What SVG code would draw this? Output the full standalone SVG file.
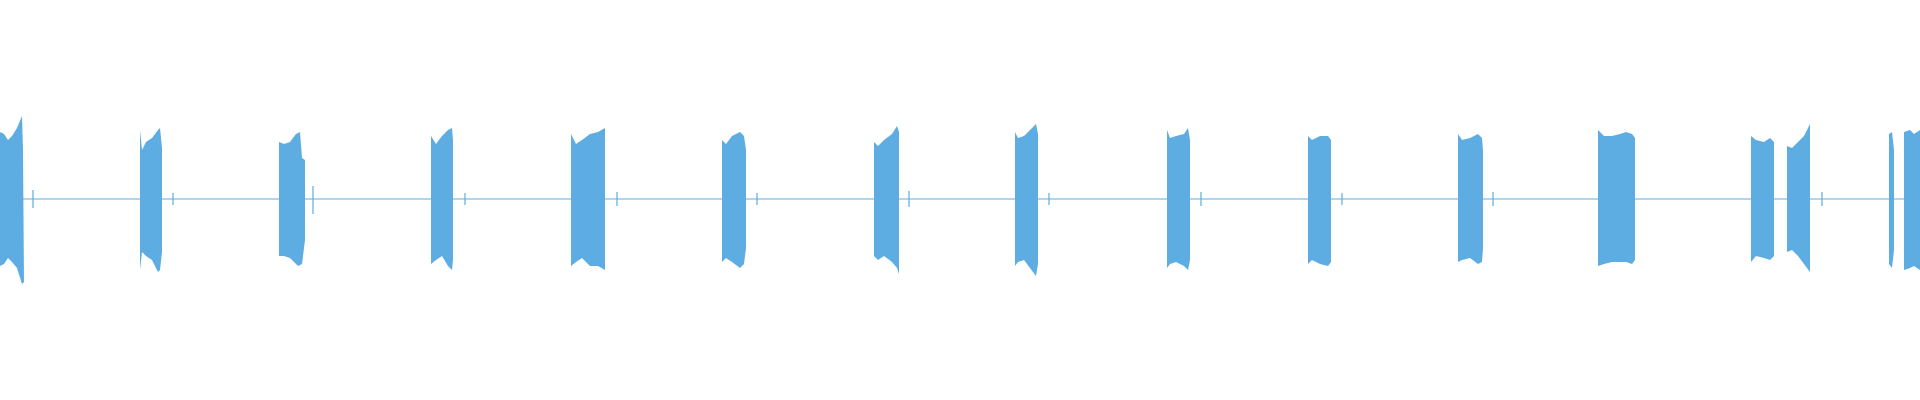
<svg xmlns="http://www.w3.org/2000/svg" width="1920" height="400" viewBox="0 0 1920 400">
<style>.w{fill:#5DADE2}.l{stroke:#5DADE2;stroke-width:1.2;fill:none}</style>
<rect width="1920" height="400" fill="#fff"/>
<g id="baseline"><path class="l" d="M0 199H1920"/></g>
<g id="ticks" class="l"><path d="M33 190v18M173 193v12M313 186v28M465 193v12M617 192v14M757 193v12M909 191v16M1049 193v12M1201 192v14M1342 193v12M1493 192v14M1822 192v14"/></g>
<g id="bursts" class="w">
<polygon points="0,132 4,134 8,140 12,136 17,128 22,116 23,150 24,282 22,284 17,268 12,262 8,258 4,264 0,266"/>
<polygon points="140,130 142,150 146,142 152,138 158,130 160,128 162,148 162,252 160,270 158,272 152,260 146,256 142,252 140,270"/>
<polygon points="279,142 284,144 290,142 296,134 300,132 302,158 305,160 305,240 302,264 298,266 290,258 284,256 279,256"/>
<polygon points="431,136 436,144 442,136 448,130 452,128 453,140 453,260 452,270 448,266 442,256 436,260 431,264"/>
<polygon points="571,134 576,144 582,140 590,134 598,132 605,128 605,270 598,266 590,266 582,258 576,262 571,266"/>
<polygon points="722,140 726,144 732,136 740,132 744,136 746,150 746,248 744,264 740,268 732,262 726,258 722,262"/>
<polygon points="874,142 878,146 884,140 892,134 897,126 899,132 899,274 897,268 892,262 884,256 878,260 874,256"/>
<polygon points="1015,132 1018,138 1024,136 1030,130 1036,124 1038,134 1038,264 1036,276 1030,268 1024,260 1018,262 1015,266"/>
<polygon points="1167,130 1170,138 1176,136 1184,134 1188,128 1190,140 1190,260 1188,270 1184,266 1176,262 1170,264 1167,268"/>
<polygon points="1308,136 1312,140 1320,136 1328,136 1331,140 1331,262 1328,266 1320,264 1312,260 1308,264"/>
<polygon points="1458,134 1462,140 1470,138 1478,134 1482,138 1483,150 1483,248 1482,262 1478,264 1470,258 1462,260 1458,262"/>
<polygon points="1598,130 1604,136 1612,136 1620,134 1626,132 1632,134 1635,138 1635,260 1632,264 1626,262 1620,262 1612,262 1604,264 1598,266"/>
<polygon points="1751,136 1756,140 1764,142 1770,138 1774,142 1774,256 1770,260 1764,258 1756,256 1751,262"/>
<polygon points="1787,146 1792,148 1798,142 1804,136 1810,124 1810,272 1804,264 1798,256 1792,250 1787,252"/>
<polygon points="1889,134 1892,132 1894,150 1894,250 1892,268 1889,264"/>
<polygon points="1904,132 1910,130 1914,134 1920,130 1920,270 1914,266 1910,268 1904,270"/>
</g>
</svg>
